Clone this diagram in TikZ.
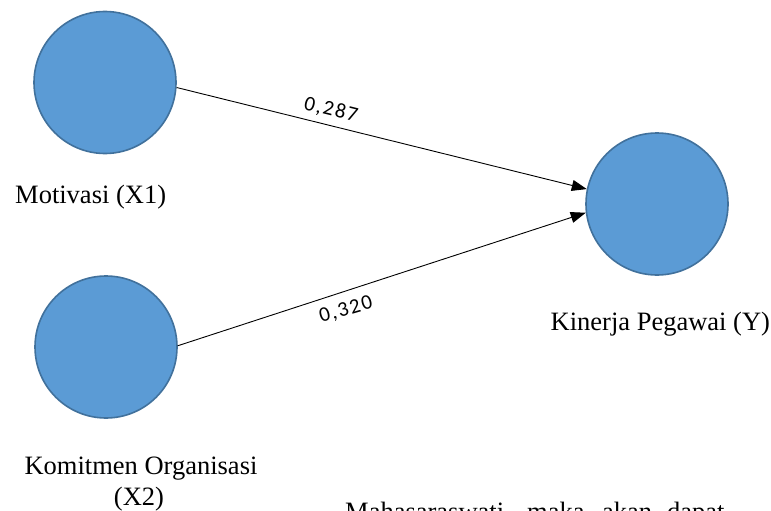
\documentclass[tikz,border=0pt]{standalone}
\usepackage{fontspec}
\setmainfont{Liberation Serif}
\newfontfamily\numfont[LetterSpace=8]{Carlito}
\usetikzlibrary{arrows.meta}
\definecolor{cfill}{HTML}{5B9BD5}
\definecolor{cedge}{HTML}{41719C}
\tikzset{
  latent/.style={circle, fill=cfill, draw=cedge, line width=1.6pt, minimum size=142pt, inner sep=0pt},
  lbl/.style={font=\fontsize{26.5}{30}\selectfont, inner sep=0pt},
  path/.style={line width=0.9pt, -{Triangle[length=15pt,width=11pt]}},
  coef/.style={font=\numfont\fontsize{21}{23}\selectfont, inner sep=0pt}
}
\begin{document}
\begin{tikzpicture}[x=1pt,y=-1pt]
\useasboundingbox (0,0) rectangle (771,511);
\clip (0,0) rectangle (771,511);
\node[latent] (x1) at (105,82.5) {};
\node[latent] (x2) at (106,347) {};
\node[latent] (y) at (657,204) {};
\node[lbl, anchor=base west] (lx1) at (15,203) {Motivasi (X1)};
\node[lbl, anchor=base west] (ly) at (550.5,330) {Kinerja Pegawai (Y)};
\node[lbl, anchor=base] (lx2a) at (141,474) {Komitmen Organisasi};
\node[lbl, anchor=base] (lx2b) at (139,505) {(X2)};
\draw[path] (x1.-4.4) -- (y.168.2);
\draw[path] (x2.1.6) -- (y.-173);
\node[coef, rotate=-14] (c1) at (331,110) {0,287};
\node[coef, rotate=16] (c2) at (346,310) {0,320};
\node[lbl, anchor=base west] (t1) at (345,520) {Mahasaraswati};
\node[lbl, anchor=base west] (t2) at (527,520) {maka};
\node[lbl, anchor=base west] (t3) at (602,520) {akan};
\node[lbl, anchor=base west] (t4) at (667,520) {dapat};
\end{tikzpicture}
\end{document}
